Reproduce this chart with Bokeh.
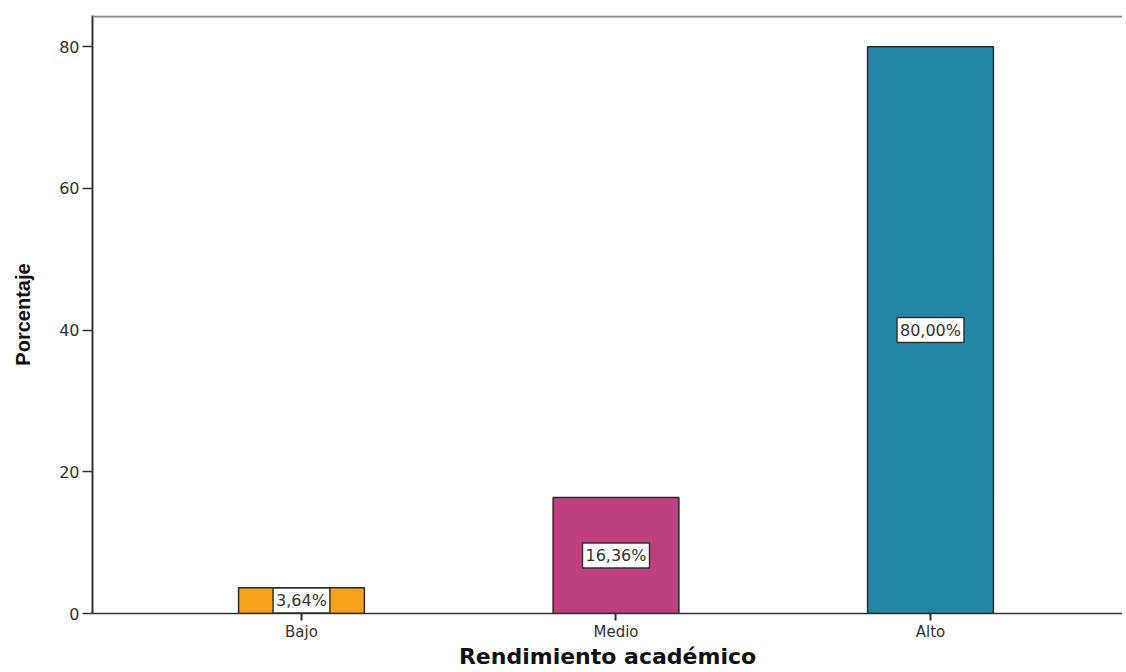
from bokeh.plotting import figure
from bokeh.models import (ColumnDataSource, Range1d, FixedTicker, Span)
from bokeh.core.properties import value
from bokeh.embed import file_html
from bokeh.resources import INLINE

categories = ["Bajo", "Medio", "Alto"]
values = [3.64, 16.36, 80.00]
labels = ["3,64%", "16,36%", "80,00%"]
colors = ["#F7A11C", "#BD3F7E", "#2387A6"]
y_ticks = [0, 20, 40, 60, 80]

xs = list(range(len(categories)))
src = ColumnDataSource(dict(
    x=xs, top=values, mid=[v / 2 for v in values], label=labels, color=colors))

p = figure(width=1122, height=672, output_backend="svg", toolbar_location=None,
           x_range=Range1d(-0.6645, 2.6105), y_range=Range1d(0, 84.4),
           min_border_left=92, min_border_top=15, min_border_bottom=59,
           min_border_right=0)
p.outline_line_color = None
p.grid.visible = False
p.background_fill_color = "white"
p.border_fill_color = "white"

p.vbar(x="x", top="top", bottom=0, width=0.4, fill_color="color",
       line_color="#2b2b2b", line_width=1.5, source=src)

p.text(x="x", y="mid", text="label", source=src, text_align="center",
       text_baseline="middle", text_font=value("DejaVu Sans"),
       text_font_size="16px", text_color="#333333",
       background_fill_color="white", border_line_color="#333333",
       border_line_width=1.5, padding=3)

# top border
p.add_layout(Span(location=84.25, dimension="width", line_color="#8a8a8a",
                  line_width=2))

# x axis
xa = p.xaxis[0]
xa.ticker = FixedTicker(ticks=xs)
xa.major_label_overrides = {i: c for i, c in zip(xs, categories)}
xa.minor_tick_line_color = None
xa.major_tick_in = 0
xa.major_tick_out = 7
xa.major_label_standoff = 2
xa.major_label_text_font = "DejaVu Sans"
xa.major_label_text_font_size = "15px"
xa.major_label_text_color = "#333333"
xa.axis_line_color = "#333333"
xa.axis_line_width = 1.5
xa.major_tick_line_color = "#333333"
xa.major_tick_line_width = 2
xa.axis_label = "Rendimiento académico"
xa.axis_label_text_font = "DejaVu Sans"
xa.axis_label_text_font_style = "bold"
xa.axis_label_text_font_size = "22px"
xa.axis_label_text_color = "#111111"
xa.axis_label_standoff = 0

# y axis
ya = p.yaxis[0]
ya.ticker = FixedTicker(ticks=y_ticks)
ya.minor_tick_line_color = None
ya.major_tick_in = 0
ya.major_tick_out = 10
ya.major_label_standoff = 3
ya.major_label_text_font = "DejaVu Sans"
ya.major_label_text_font_size = "16px"
ya.major_label_text_color = "#333333"
ya.axis_line_color = "#333333"
ya.axis_line_width = 2
ya.major_tick_line_color = "#333333"
ya.major_tick_line_width = 1.5
ya.axis_label = "Porcentaje"
ya.axis_label_text_font = "Liberation Sans"
ya.axis_label_text_font_style = "bold"
ya.axis_label_text_font_size = "20px"
ya.axis_label_text_color = "#111111"
ya.axis_label_standoff = 22

open("out.html", "w").write(file_html(p, INLINE))
